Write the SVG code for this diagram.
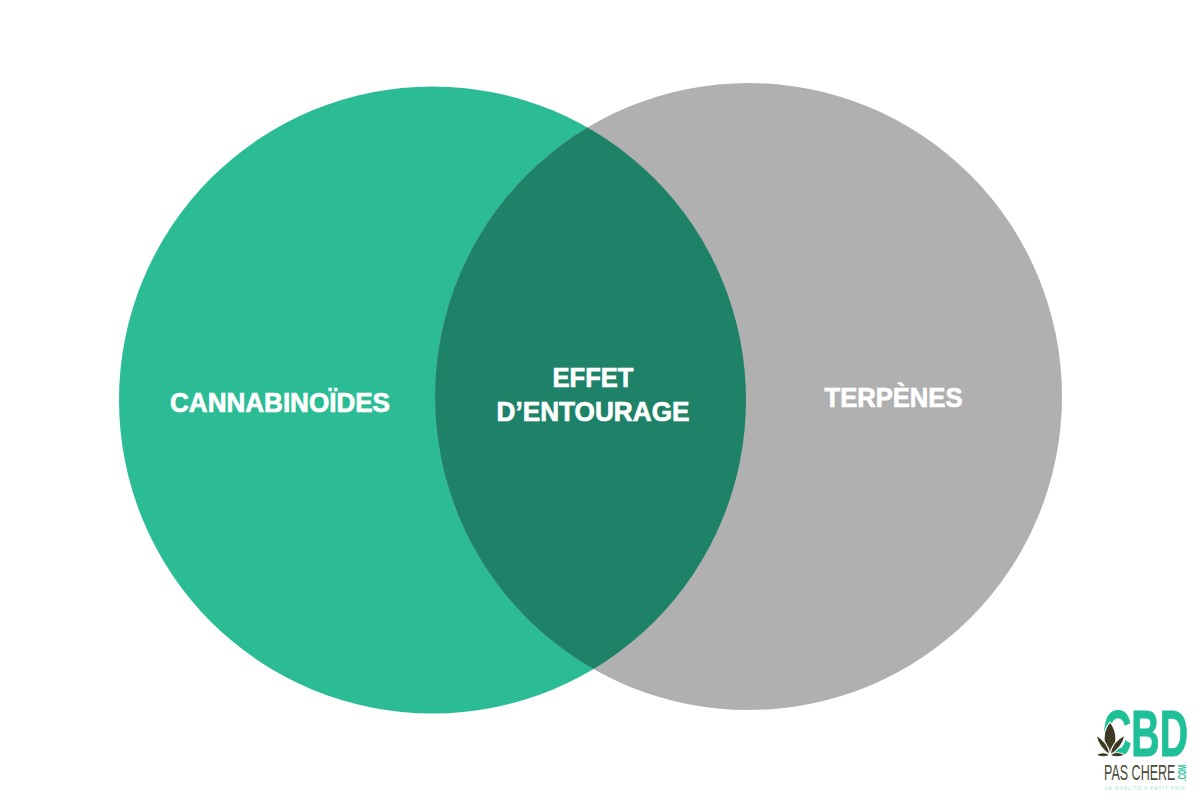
<svg xmlns="http://www.w3.org/2000/svg" width="1200" height="800" viewBox="0 0 1200 800">
<style>
.l{font-family:"Liberation Sans",Arial,sans-serif;font-weight:700;font-size:27px;fill:#fff;text-anchor:middle;stroke:#fff;stroke-width:.7px}
.f{font-family:"Liberation Sans",Arial,sans-serif}
</style>
<defs><clipPath id="lc"><circle cx="432.500" cy="400" r="313.500"/></clipPath></defs>
<rect width="1200" height="800" fill="#fff"/>
<g id="cannabinoides">
<circle cx="432.500" cy="400" r="313.500" fill="#2bbc96"/>
<text class="l" x="280" y="412" textLength="220" lengthAdjust="spacingAndGlyphs">CANNABINOÏDES</text>
</g>
<g id="terpenes">
<circle cx="748.500" cy="396.500" r="313.500" fill="#b0b0b0"/>
<text class="l" x="893.500" y="407" textLength="138" lengthAdjust="spacingAndGlyphs">TERPÈNES</text>
</g>
<g id="effet-entourage">
<circle cx="748.500" cy="396.500" r="313.500" fill="#1e8268" clip-path="url(#lc)"/>
<text class="l" x="593" y="387" textLength="81" lengthAdjust="spacingAndGlyphs">EFFET</text>
<text class="l" x="593" y="421" textLength="193" lengthAdjust="spacingAndGlyphs">D’ENTOURAGE</text>
</g>
<g id="logo">
<text class="f" transform="translate(1103 756) scale(.604 1)" font-weight="700" font-size="65" fill="#1fbf98" stroke="#1fbf98" stroke-width="1">CBD</text>
<g fill="#3c3a22" stroke="#fff" stroke-width="1.200">
<path d="M1110 722C1102 732 1102 745 1110 754C1118 745 1118 732 1110 722Z"/>
<path d="M1096 735C1098 745 1104 751 1110 755C1109 746 1103 739 1096 735Z"/>
<path d="M1125 735C1123 745 1117 751 1110 755C1111 746 1117 739 1125 735Z"/>
<path d="M1096 755C1101 758 1107 757 1110 755C1106 752 1100 752 1096 755Z"/>
<path d="M1125 755C1120 758 1113 757 1110 755C1114 752 1120 752 1125 755Z"/>
</g>
<text class="f" transform="translate(1104 780) scale(.57 1)" font-size="22" fill="#4b4a38">PAS CHERE</text>
<text class="f" transform="translate(1186 781) rotate(-90) scale(.56 1)" font-size="11" font-weight="700" fill="#1fbf98">.COM</text>
<text class="f" x="1105" y="790" font-size="5" fill="#a5dfd0" textLength="80" lengthAdjust="spacing">LA QUALITE A PETIT PRIX</text>
</g>
</svg>
